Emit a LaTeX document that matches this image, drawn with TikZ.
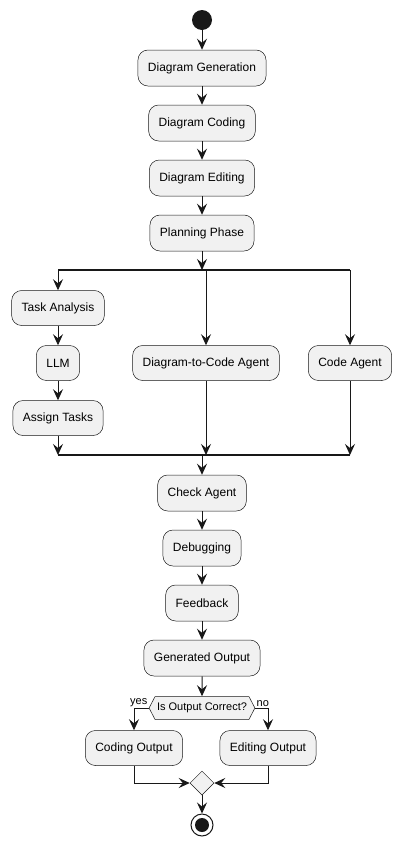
\documentclass[tikz,border=0pt]{standalone}
\usepackage{fontspec}
\setmainfont{Liberation Sans}
\usetikzlibrary{arrows.meta,shapes.geometric,shapes.symbols,positioning}
\definecolor{actfill}{HTML}{F1F1F1}
\definecolor{actline}{HTML}{181818}
\tikzset{
  activity/.style={draw=actline, fill=actfill, rounded corners=10pt, line width=0.5pt, minimum height=36pt, inner xsep=10pt, font=\fontsize{12pt}{14pt}\selectfont},
  decision/.style={shape=signal, signal to=east and west, signal pointer angle=125, draw=actline, fill=actfill, line width=0.5pt, minimum height=23pt, inner xsep=2pt, inner ysep=0pt, font=\fontsize{11pt}{13pt}\selectfont},
  merge/.style={shape=diamond, draw=actline, fill=actfill, line width=0.5pt, minimum size=24pt, inner sep=0pt},
  flow/.style={draw=actline, line width=1pt, -{Stealth[length=11pt,width=10pt,inset=4pt]}},
  bar/.style={draw=actline, line width=2pt},
  guard/.style={font=\fontsize{11pt}{13pt}\selectfont, inner sep=1pt},
}
\begin{document}
\begin{tikzpicture}[x=1pt,y=-1pt]
\useasboundingbox (0,0) rectangle (401,847);

\node[circle, fill=actline, minimum size=20pt, inner sep=0pt] (start) at (202,20) {};
\node[activity] (gen) at (202,68) {Diagram Generation};
\node[activity] (coding) at (202,123) {Diagram Coding};
\node[activity] (editing) at (202,178) {Diagram Editing};
\node[activity] (plan) at (202,233) {Planning Phase};

\coordinate (forkL) at (58,270);
\coordinate (forkR) at (350,270);
\node[activity, minimum height=35pt] (task) at (58,308) {Task Analysis};
\node[activity, minimum height=35pt] (llm) at (58,363) {LLM};
\node[activity, minimum height=35pt] (assign) at (58,418) {Assign Tasks};
\node[activity, minimum height=35pt] (d2c) at (206,363) {Diagram-to-Code Agent};
\node[activity, minimum height=35pt] (codeag) at (350,363) {Code Agent};
\coordinate (joinL) at (58,455);
\coordinate (joinR) at (350,455);

\node[activity] (check) at (202,493) {Check Agent};
\node[activity] (debug) at (202,548) {Debugging};
\node[activity] (feed) at (202,603) {Feedback};
\node[activity] (out) at (202,658) {Generated Output};
\node[decision] (correct) at (202,708) {Is Output Correct?};
\node[activity, minimum height=35pt] (codeout) at (134,748) {Coding Output};
\node[activity, minimum height=35pt] (editout) at (268,748) {Editing Output};
\node[merge] (merge) at (202,783) {};
\node[circle, draw=actline, fill=white, line width=1pt, minimum size=22pt, inner sep=0pt] (stop) at (202,825) {};
\fill[actline] (stop) circle (7pt);

\draw[flow] (start) -- (gen);
\draw[flow] (gen) -- (coding);
\draw[flow] (coding) -- (editing);
\draw[flow] (editing) -- (plan);
\draw[flow] (plan) -- (plan.south |- forkL);
\draw[bar] (forkL) -- (forkR);
\draw[flow] (forkL) -- (task);
\draw[flow] (d2c.north |- forkL) -- (d2c);
\draw[flow] (codeag.north |- forkR) -- (codeag);
\draw[flow] (task) -- (llm);
\draw[flow] (llm) -- (assign);
\draw[flow] (assign) -- (assign.south |- joinL);
\draw[flow] (d2c) -- (d2c.south |- joinL);
\draw[flow] (codeag) -- (codeag.south |- joinR);
\draw[bar] (joinL) -- (joinR);
\draw[flow] (check.north |- joinL) -- (check);
\draw[flow] (check) -- (debug);
\draw[flow] (debug) -- (feed);
\draw[flow] (feed) -- (out);
\draw[flow] (out) -- (correct);
\draw[flow] (correct.west) -| (codeout.north) node[guard, pos=0, anchor=south east] {yes};
\draw[flow] (correct.east) -| (editout.north) node[guard, pos=0, anchor=south west] {no};
\draw[flow] (codeout.south) |- (merge.west);
\draw[flow] (editout.south) |- (merge.east);
\draw[flow] (merge) -- (stop);
\end{tikzpicture}
\end{document}
